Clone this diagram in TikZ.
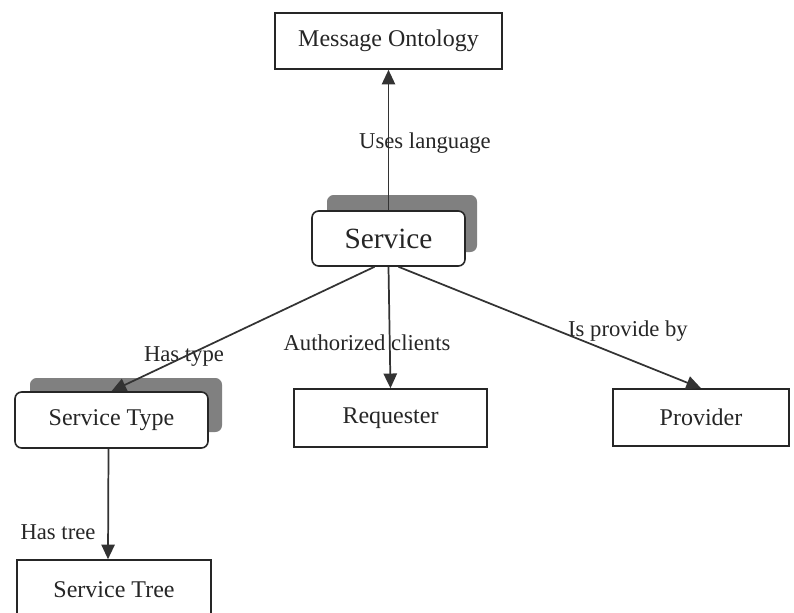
\documentclass[tikz,border=0pt]{standalone}
\usepackage{fontspec}
\setmainfont{Liberation Serif}
\usetikzlibrary{arrows.meta}
\def\px{0.75pt}
\tikzset{
  box/.style={draw=black!85, line width=1.2pt, fill=white, inner sep=0pt,
    font=\fontsize{18}{20}\selectfont, text=black!85},
  rbox/.style={box, rounded corners=5pt},
  shade/.style={fill=black!50, draw=none, rounded corners=5pt, inner sep=0pt},
  link/.style={draw=black!80, line width=1.3pt,
    -{Triangle[length=11pt,width=10pt]}},
  lbl/.style={font=\fontsize{17}{19}\selectfont, text=black!85, inner sep=0pt}
}
\begin{document}
\begin{tikzpicture}[x=0.75pt,y=-0.75pt]
  \useasboundingbox[fill=white] (0,0) rectangle (794,612);
  \clip (0,0) rectangle (794,612);

  % shadows behind the rounded boxes
  \node[shade, minimum width=150*\px, minimum height=57*\px] (svcsh) at (402,223.5) {};
  \node[shade, minimum width=192*\px, minimum height=54*\px] (stypesh) at (126,405) {};

  % boxes
  \node[box, minimum width=227*\px, minimum height=56*\px] (onto) at (388.5,41) {Message Ontology};
  \node[rbox, minimum width=153*\px, minimum height=55*\px, font=\fontsize{22}{24}\selectfont] (svc) at (388.5,238.5) {Service};
  \node[rbox, minimum width=193*\px, minimum height=56*\px] (stype) at (111.5,420) {Service Type};
  \node[box, minimum width=193*\px, minimum height=58*\px] (req) at (390.5,418) {Requester};
  \node[box, minimum width=176*\px, minimum height=57*\px] (prov) at (701,417.5) {Provider};
  \node[box, minimum width=194*\px, minimum height=60*\px] (stree) at (114,590) {Service Tree};

  % connector labels
  \node[lbl] (l1) at (425,143) {Uses language};
  \node[lbl] (l2) at (184,357) {Has type};
  \node[lbl] (l3) at (367,343) {Authorized clients};
  \node[lbl] (l4) at (628,331) {Is provide by};
  \node[lbl] (l5) at (58,532) {Has tree};

  % connectors
  \draw[link] (svc.north) -- (onto.south);
  \draw[link] ([xshift=-14*\px]svc.south) -- (stype.north);
  \draw[link] (svc.south) -- (req.north);
  \draw[link] ([xshift=10*\px]svc.south) -- (prov.north);
  \draw[link] ([xshift=-3*\px]stype.south) -- ([xshift=-6*\px]stree.north);
\end{tikzpicture}
\end{document}
